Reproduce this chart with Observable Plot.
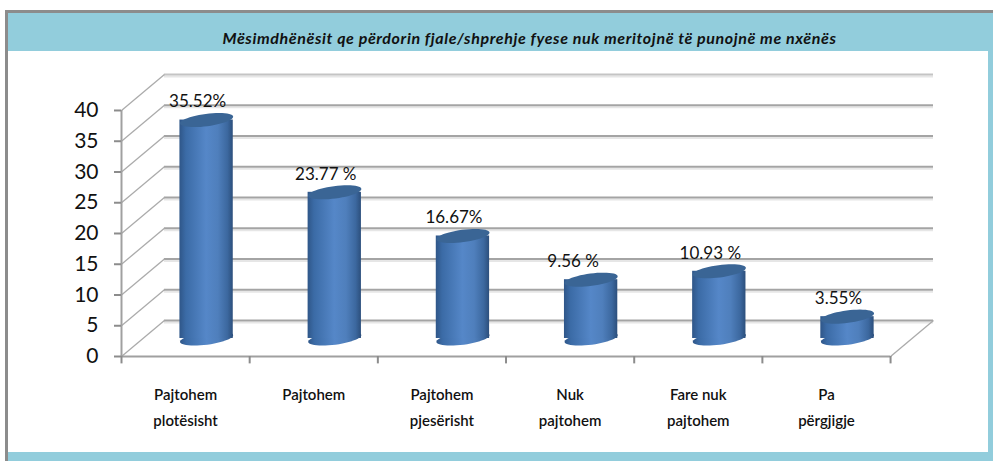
<!DOCTYPE html>
<html><head><meta charset="utf-8">
<script src="https://cdn.jsdelivr.net/npm/d3@7"></script>
<script src="https://cdn.jsdelivr.net/npm/@observablehq/plot@0.6"></script>
<style>
html,body{margin:0;padding:0;background:#fff;width:993px;height:461px;overflow:hidden}
#frame{position:absolute;left:5px;top:10px;width:988px;height:451px;box-sizing:border-box;border-left:3px solid #8c8c8c;border-top:3px solid #8c8c8c;background:#92cddc}
#white{position:absolute;left:8px;top:51px;width:980px;height:401px;background:#fff}
#title{position:absolute;left:0;top:28px;width:1059px;text-align:center;font:italic 700 16px Lato,sans-serif;letter-spacing:.62px;color:#111;white-space:nowrap}
#chart{position:absolute;left:0;top:0}
rect[fill="url(#cyl)"]{transform-box:fill-box;transform-origin:center;transform:skewY(-7.5deg)}
</style></head><body>
<div id="frame"></div><div id="white"></div>
<div id="title">Mësimdhënësit qe përdorin fjale/shprehje fyese nuk meritojnë të punojnë me nxënës</div>
<div id="chart"></div>
<script>
const categories = ["Pajtohem\nplotësisht","Pajtohem","Pajtohem\npjesërisht","Nuk\npajtohem","Fare nuk\npajtohem","Pa\npërgjigje"];
const values = [35.52,23.77,16.67,9.56,10.93,3.55];
const labels = ["35.52%","23.77 %","16.67%","9.56 %","10.93 %","3.55%"];
const yTicks = [0,5,10,15,20,25,30,35,40];
const rows = categories.map((c,i)=>({i,c,v:values[i],l:labels[i]}));

// oblique depth of the 3D box, in data units
const depthX = 0.335, depthY = 5.85;
const xMax = 6 + depthX, yMax = 40 + depthY;
const gridTicks = yTicks.map(t=>({t}));

// tilted ellipse used for the cylinder caps
const ellipse = {draw(ctx){
  const rx=26.8, ry=6.2, a=-7.5*Math.PI/180, n=48;
  for(let k=0;k<=n;k++){
    const p=2*Math.PI*k/n, ex=rx*Math.cos(p), ey=ry*Math.sin(p);
    const X=ex*Math.cos(a)-ey*Math.sin(a), Y=ex*Math.sin(a)+ey*Math.cos(a);
    k?ctx.lineTo(X,Y):ctx.moveTo(X,Y);
  }
  ctx.closePath();
}};
const defs = () => {
  const s=d3.create("svg:defs");
  const g=s.append("linearGradient").attr("id","cyl").attr("x1",0).attr("x2",1).attr("y1",0).attr("y2",0);
  [[0,"#2f5688"],[.12,"#3b6ba6"],[.5,"#5587c8"],[.72,"#4f7fbc"],[.9,"#3c689f"],[1,"#2c4f7c"]].forEach(([o,c])=>g.append("stop").attr("offset",o).attr("stop-color",c));
  return s.node();
};
const W = 0.208, DX = 21, DY = -18;
const font = "Lato,sans-serif";

const plot = Plot.plot({
  width:993,height:461,
  marginLeft:121,marginRight:60,marginTop:74,marginBottom:105,
  style:{background:"transparent",fontFamily:font,color:"#111",overflow:"visible"},
  x:{type:"linear",domain:[0,xMax],axis:null},
  y:{type:"linear",domain:[0,yMax],axis:null},
  marks:[
    defs,
    // back wall gridlines (soft shadow, then line)
    Plot.ruleY(gridTicks,{y:d=>d.t+depthY,x1:depthX,x2:xMax,stroke:"#e6e6e6",strokeWidth:2,dy:2}),
    Plot.ruleY(gridTicks,{y:d=>d.t+depthY,x1:depthX,x2:xMax,stroke:d=>d.t===40?"#c4c4c4":"#a4a4a4",strokeWidth:2}),
    // side wall slants
    Plot.link(gridTicks,{x1:0,x2:depthX,y1:d=>d.t,y2:d=>d.t+depthY,stroke:"#ababab",strokeWidth:1.3}),
    // floor right slant and front edge
    Plot.link([0],{x1:6,x2:xMax,y1:0,y2:depthY,stroke:"#ababab",strokeWidth:1.3}),
    Plot.ruleY([0],{x1:0,x2:6,stroke:"#a0a0a0",strokeWidth:2}),
    Plot.ruleX([0],{y1:0,y2:40,stroke:"#a0a0a0",strokeWidth:2}),
    // axes
    Plot.axisY({ticks:yTicks,anchor:"left",tickSize:7,tickPadding:16,stroke:"#8c8c8c",strokeWidth:2,fontSize:21,label:null,fill:"#111"}),
    Plot.tickX(d3.range(7),{x:d=>d,y:0,dy:0,stroke:"#8c8c8c",strokeWidth:2,tickSize:0,insetBottom:0}).plot ? null : null,
    Plot.ruleX(d3.range(7),{x:d=>d,y1:0,y2:-1.2,stroke:"#8c8c8c",strokeWidth:2}),
    // cylinders
    Plot.dot(rows,{x:d=>d.i+.5,y:0,dx:DX,dy:DY,symbol:ellipse,r:10,fill:"url(#cyl)"}),
    Plot.rectY(rows,{x1:d=>d.i+.5-W,x2:d=>d.i+.5+W,y1:0,y2:"v",dx:DX,dy:DY,fill:"url(#cyl)",inset:0}),
    Plot.dot(rows,{x:d=>d.i+.5,y:"v",dx:DX,dy:DY,symbol:ellipse,r:10,fill:"#3a6595"}),
    // value labels
    Plot.text(rows.filter(d=>d.i!==3),{x:d=>d.i+.5,y:"v",text:"l",dx:12,dy:-36,fontSize:17,fill:"#111",lineAnchor:"middle"}),
    Plot.text(rows.filter(d=>d.i===3),{x:d=>d.i+.5,y:"v",text:"l",dx:3,dy:-36,fontSize:17,fill:"#111",lineAnchor:"middle"}),
    // category labels
    Plot.text(rows,{x:d=>d.i+.5,y:0,text:"c",dy:25,lineAnchor:"top",fontSize:15,fontWeight:600,lineHeight:1.75,fill:"#111",letterSpacing:"0.6px"})
  ].filter(Boolean)
});
document.getElementById("chart").append(plot);
</script>
</body></html>
